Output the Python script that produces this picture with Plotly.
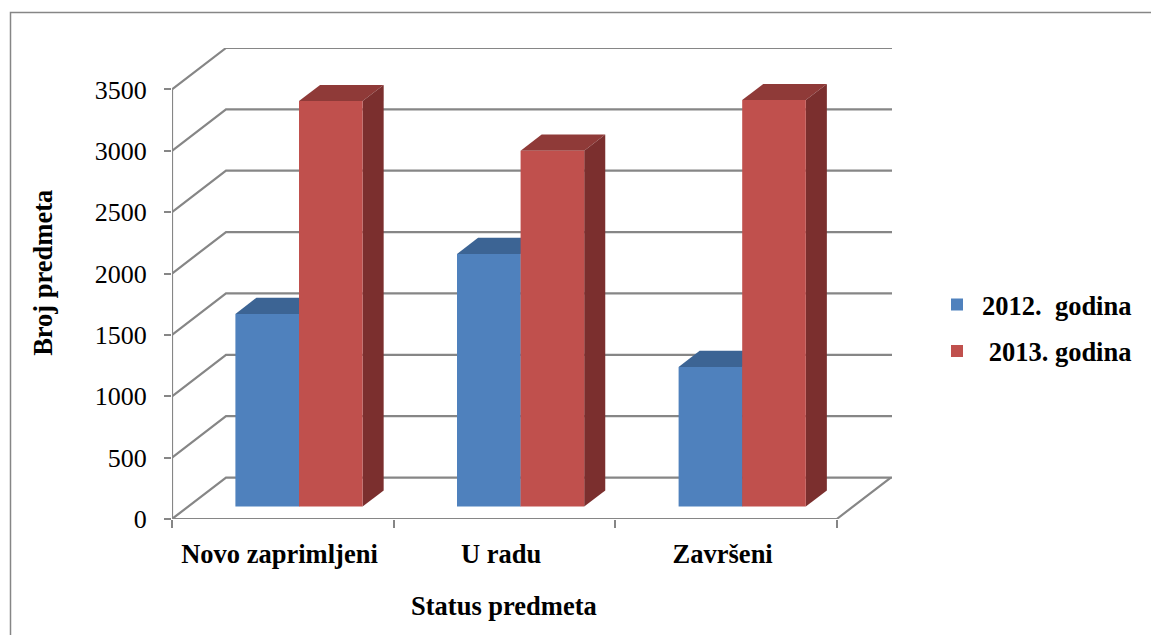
import plotly.graph_objects as go

categories = ["Novo zaprimljeni", "U radu", "Završeni"]
values_2012 = [1570, 2058, 1138]
values_2013 = [3304, 2899, 3312]
series_names = ["2012.  godina", " 2013. godina"]
y_ticks = [0, 500, 1000, 1500, 2000, 2500, 3000, 3500]

W, H = 1151, 635
L, R, T, B = 172, 892, 48, 519.3
CAT_PX = 221.6
VAL_PX = 0.1228
DX = 54 / CAT_PX
DV = 41.5 / VAL_PX
X_MAX = (R - L) / CAT_PX
Y_MAX = (B - T) / VAL_PX
GRID = "#868686"
FACES = [
    ("#4F81BD", "#3C6494", "#2F4F75"),
    ("#C0504D", "#8F3A38", "#7B2F2E"),
]
BAR_W = 0.287
D0, D1 = 0.30, 0.69
BOLD = 26.5


def proj(x, v, d):
    return x + d * DX, v + d * DV


def poly(pts, color):
    xs = [p[0] for p in pts]
    ys = [p[1] for p in pts]
    return go.Scatter(x=xs, y=ys, mode="lines", fill="toself", fillcolor=color,
                      line=dict(width=0), hoverinfo="skip", showlegend=False, cliponaxis=False)


def line(pts, width=2.2):
    xs = [p[0] for p in pts]
    ys = [p[1] for p in pts]
    return go.Scatter(x=xs, y=ys, mode="lines", line=dict(color=GRID, width=width),
                      hoverinfo="skip", showlegend=False, cliponaxis=False)


fig = go.Figure()
n = len(categories)

# walls and floor
for t in y_ticks:
    fig.add_trace(line([proj(0, t, 0), proj(0, t, 1), proj(X_MAX - DX, t, 1)]))
fig.add_trace(line([proj(0, 0, 0), proj(0, y_ticks[-1], 0)]))
fig.add_trace(line([proj(0, 0, 0), proj(n, 0, 0), proj(n, 0, 1)]))

# bars, back to front
for i in range(n):
    for s, vals in enumerate([values_2012, values_2013]):
        v = vals[i]
        x0 = i + 0.5 + (s - 1) * BAR_W
        x1 = x0 + BAR_W
        front, top, side = FACES[s]
        fig.add_trace(poly([proj(x0, v, D0), proj(x1, v, D0), proj(x1, v, D1), proj(x0, v, D1)], top))
        fig.add_trace(poly([proj(x1, 0, D0), proj(x1, v, D0), proj(x1, v, D1), proj(x1, 0, D1)], side))
        fig.add_trace(poly([proj(x0, 0, D0), proj(x1, 0, D0), proj(x1, v, D0), proj(x0, v, D0)], front))

# legend entries
for s, name in enumerate(series_names):
    fig.add_trace(go.Scatter(x=[None], y=[None], mode="markers", name=name, legendgroup=name,
                             marker=dict(symbol="square", size=14, color=FACES[s][0])))

FONT = "Liberation Serif"


def px(x):
    return (x - L) / (R - L)


def py(y):
    return (B - y) / (B - T)


fig.update_layout(
    width=W, height=H, autosize=False,
    margin=dict(l=L, r=W - R, t=T, b=H - B),
    paper_bgcolor="white", plot_bgcolor="white",
    font=dict(family=FONT, color="black"),
    showlegend=True,
    legend=dict(x=px(932), y=py(281), xanchor="left", yanchor="top",
                font=dict(family=FONT, size=BOLD, color="black", weight="bold"),
                tracegroupgap=9, itemsizing="constant", itemwidth=40,
                bgcolor="rgba(0,0,0,0)"),
    xaxis=dict(range=[0, X_MAX], showgrid=False, zeroline=False, showline=False,
               tickmode="array", tickvals=[i + 0.485 for i in range(n)], ticktext=categories,
               ticks="", ticklabelstandoff=16,
               tickfont=dict(family=FONT, size=BOLD, color="black", weight="bold"),
               minor=dict(tickmode="array", tickvals=list(range(n + 1)), ticks="outside",
                          ticklen=8, tickwidth=2, tickcolor=GRID, showgrid=False)),
    yaxis=dict(range=[0, Y_MAX], showgrid=False, zeroline=False, showline=False,
               tickmode="array", tickvals=y_ticks, ticks="outside", ticklen=7, tickwidth=2,
               tickcolor=GRID, ticklabelstandoff=12,
               tickfont=dict(family=FONT, size=26, color="black")),
    shapes=[dict(type="path", xref="paper", yref="paper", layer="below",
                 path=f"M {px(10.5)} {py(640)} L {px(10.5)} {py(12.5)} L {px(1160)} {py(12.5)}",
                 line=dict(color="#868686", width=1.5))],
    annotations=[
        dict(text="<b>Status predmeta</b>", xref="paper", yref="paper", x=px(504), y=py(606),
             showarrow=False, xanchor="center", yanchor="middle",
             font=dict(family=FONT, size=BOLD, color="black")),
        dict(text="<b>Broj predmeta</b>", xref="paper", yref="paper", x=px(43), y=py(273),
             textangle=-90, showarrow=False, xanchor="center", yanchor="middle",
             font=dict(family=FONT, size=BOLD, color="black")),
    ],
)

fig.write_html("out.html", config=dict(displayModeBar=False),
               post_script="document.body.style.margin='0';document.documentElement.style.overflow='hidden';")
